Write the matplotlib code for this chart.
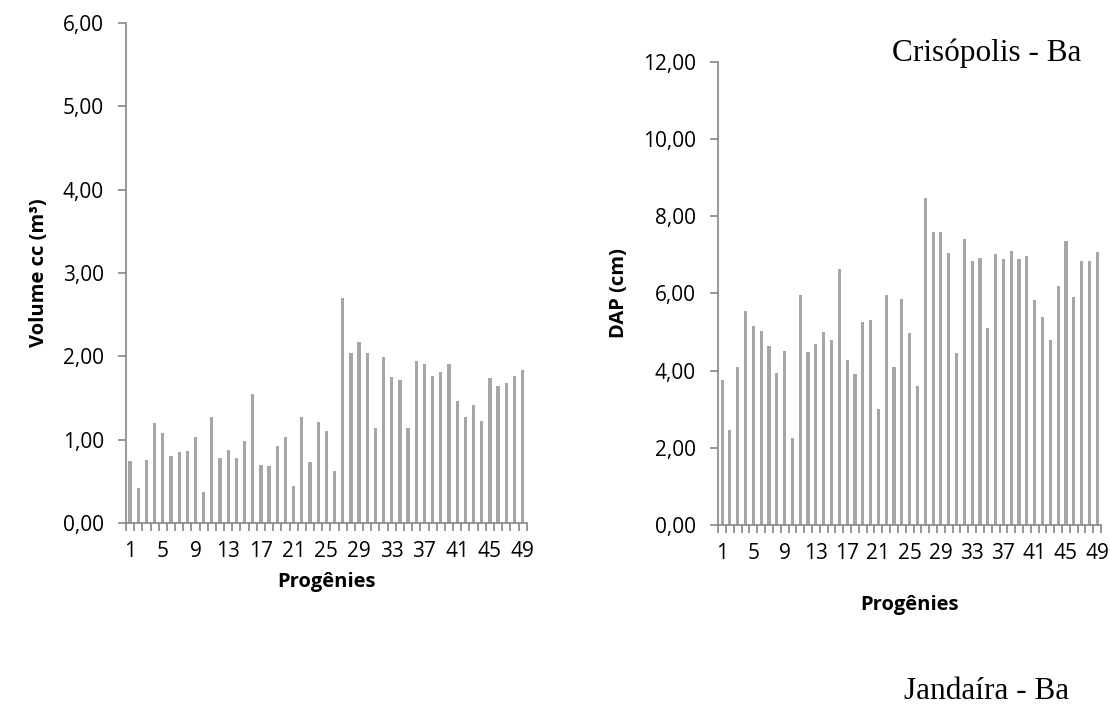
import numpy as np
import matplotlib.pyplot as plt
from matplotlib.ticker import FuncFormatter

progenies = list(range(1, 50))

volume = [0.74, 0.42, 0.76, 1.20, 1.08, 0.80, 0.85, 0.87, 1.03, 0.37,
          1.27, 0.78, 0.88, 0.78, 0.99, 1.55, 0.70, 0.68, 0.92, 1.03,
          0.45, 1.27, 0.73, 1.21, 1.10, 0.62, 2.70, 2.04, 2.17, 2.04,
          1.14, 1.99, 1.75, 1.72, 1.14, 1.94, 1.91, 1.76, 1.81, 1.91,
          1.47, 1.27, 1.42, 1.23, 1.74, 1.64, 1.68, 1.77, 1.84]

dap = [3.75, 2.45, 4.10, 5.55, 5.15, 5.02, 4.65, 3.95, 4.52, 2.25,
       5.97, 4.47, 4.70, 5.00, 4.78, 6.63, 4.28, 3.90, 5.25, 5.30,
       3.00, 5.97, 4.10, 5.85, 4.97, 3.60, 8.48, 7.58, 7.60, 7.05,
       4.45, 7.42, 6.85, 6.93, 5.10, 7.02, 6.88, 7.10, 6.90, 6.98,
       5.83, 5.38, 4.80, 6.20, 7.35, 5.90, 6.85, 6.85, 7.07]

plt.rcParams['font.family'] = ['Open Sans', 'DejaVu Sans']

bar_color = '#a6a6a6'
axis_color = '#868686'
comma = FuncFormatter(lambda v, p: f'{v:.2f}'.replace('.', ','))


def style_axes(ax, values, ymax, ystep, ylabel, xpad):
    x = np.arange(len(progenies))
    ax.bar(x, values, width=0.4, color=bar_color)
    ax.set_xlim(-0.5, len(progenies) - 0.5)
    ax.set_ylim(0, ymax)
    ax.set_yticks(np.arange(0, ymax + 0.001, ystep))
    ax.yaxis.set_major_formatter(comma)
    ax.set_xticks(x[::4])
    ax.set_xticklabels([str(p) for p in progenies[::4]])
    ax.set_xticks(np.arange(-0.5, len(progenies)), minor=True)
    ax.tick_params(axis='x', which='major', length=0, pad=13, labelsize=15)
    ax.tick_params(axis='x', which='minor', length=6, color=axis_color, width=1.2)
    ax.tick_params(axis='y', length=6, color=axis_color, width=1.2, labelsize=15, pad=10)
    for s in ['top', 'right']:
        ax.spines[s].set_visible(False)
    for s in ['left', 'bottom']:
        ax.spines[s].set_color(axis_color)
        ax.spines[s].set_linewidth(1.2)
    ax.set_xlabel('Progênies', fontsize=14.5, fontweight='bold', labelpad=xpad)
    ax.set_ylabel(ylabel, fontsize=14.5, fontweight='bold', labelpad=10)


fig = plt.figure(figsize=(11.1, 7.06), dpi=100)
ax1 = fig.add_axes([0.1135, 0.2592, 0.361, 0.708])
ax2 = fig.add_axes([0.647, 0.2564, 0.345, 0.656])

style_axes(ax1, volume, 6, 1, 'Volume cc (m³)', 7)
style_axes(ax2, dap, 12, 2, 'DAP (cm)', 22)

fig.text(0.889, 0.924, 'Crisópolis - Ba', family='Liberation Serif',
         fontsize=22.5, ha='center', va='center')
fig.text(0.889, 0.020, 'Jandaíra - Ba', family='Liberation Serif',
         fontsize=22.5, ha='center', va='center')

fig.savefig('out.png', dpi=100)
